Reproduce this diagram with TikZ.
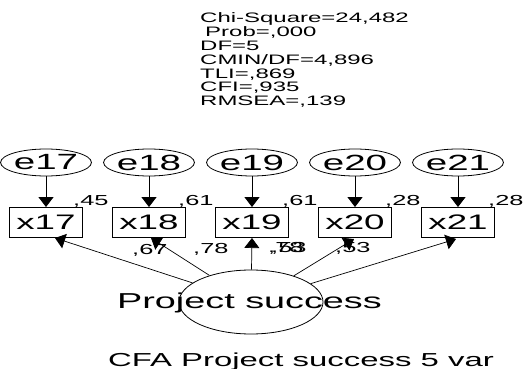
\documentclass[tikz,border=0pt]{standalone}
\usepackage{fontspec}
\setmainfont[FakeStretch=1.75]{Liberation Sans}
\usetikzlibrary{arrows.meta,shapes.geometric}
\newcommand{\fs}[1]{\fontsize{#1}{#1}\selectfont}
\begin{document}
\begin{tikzpicture}[x=1pt,y=-1pt,
  stat/.style={anchor=base west,inner sep=0pt,font=\fs{13.7}},
  errnode/.style={draw,line width=0.8pt,ellipse,minimum width=75pt,minimum height=27pt,inner sep=0pt,font=\fs{22}},
  obsbox/.style={draw,line width=0.9pt,rectangle,minimum width=73pt,minimum height=30pt,inner sep=0pt,font=\fs{21}},
  lat/.style={draw,line width=0.8pt,ellipse,minimum width=144pt,minimum height=64pt,inner sep=0pt},
  lbl/.style={anchor=base west,inner sep=0pt,font=\fs{14.5}},
  earr/.style={line width=1pt,-{Triangle[width=15pt,length=10pt]}},
  larr/.style={line width=0.7pt,-{Triangle[width=15pt,length=10pt]}}
]
\fill[white] (0,0) rectangle (528,369);
\useasboundingbox (0,0) rectangle (528,369);
% fit statistics
\node[stat] (s1) at (200,23) {Chi-Square=24,482};
\node[stat] (s2) at (205,37) {Prob=,000};
\node[stat] (s3) at (200,51) {DF=5};
\node[stat] (s4) at (200,65) {CMIN/DF=4,896};
\node[stat] (s5) at (200,78.5) {TLI=,869};
\node[stat] (s6) at (200,92) {CFI=,935};
\node[stat] (s7) at (200,106) {RMSEA=,139};
% error terms
\node[errnode] (e17) at (46,162.5) {e17};
\node[errnode] (e18) at (149,162.5) {e18};
\node[errnode] (e19) at (252,162.5) {e19};
\node[errnode] (e20) at (355,162.5) {e20};
\node[errnode] (e21) at (458,162.5) {e21};
% observed variables
\node[obsbox] (x17) at (46,222.5) {x17};
\node[obsbox] (x18) at (149,222.5) {x18};
\node[obsbox] (x19) at (252,222.5) {x19};
\node[obsbox] (x20) at (355,222.5) {x20};
\node[obsbox] (x21) at (458,222.5) {x21};
% latent
\node[lat] (ps) at (251,302) {};
\node[inner sep=0pt,anchor=base,font=\fs{21.6}] (pstxt) at (249.5,308) {Project success};
% arrow targets on box bottoms
\coordinate (t17) at (55,238);
\coordinate (t18) at (151,238);
\coordinate (t19) at (252,238);
\coordinate (t20) at (354,239);
\coordinate (t21) at (456,239);
% error arrows
\draw[earr] (e17) -- (x17);
\draw[earr] (e18) -- (x18);
\draw[earr] (e19) -- (x19);
\draw[earr] (e20) -- (x20);
\draw[earr] (e21) -- (x21);
% loading arrows
\draw[larr] (ps) -- (t17);
\draw[larr] (ps) -- (t18);
\draw[larr] (ps) -- (t19);
\draw[larr] (ps) -- (t20);
\draw[larr] (ps) -- (t21);
% squared multiple correlations
\node[lbl] (r17) at (73,205) {,45};
\node[lbl] (r18) at (178,205) {,61};
\node[lbl] (r19) at (282,205) {,61};
\node[lbl] (r20) at (385,205) {,28};
\node[lbl] (r21) at (488,205) {,28};
% loadings
\node[lbl] (l17) at (132,254) {,67};
\node[lbl] (l18) at (193,253) {,78};
\node[lbl] (l19) at (268,252) {,78};
\node[lbl] (l20b) at (271,252) {,53};
\node[lbl] (l21) at (335,252) {,53};
% caption
\node[inner sep=0pt,anchor=base,font=\fs{18.8}] (cap) at (301,366.5) {CFA Project success 5 var};
\end{tikzpicture}
\end{document}
